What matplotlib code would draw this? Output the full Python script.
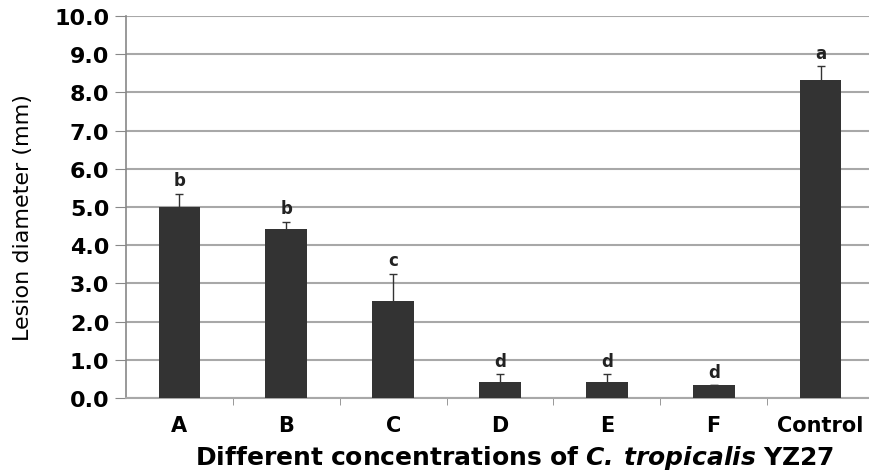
import matplotlib
matplotlib.use("Agg")
import matplotlib.pyplot as plt
import numpy as np

categories = ["A", "B", "C", "D", "E", "F", "Control"]
values = [5.0, 4.42, 2.55, 0.42, 0.42, 0.33, 8.33]
errors = [0.34, 0.2, 0.7, 0.2, 0.2, 0.0, 0.35]
letters = ["b", "b", "c", "d", "d", "d", "a"]
yticks = [0, 1, 2, 3, 4, 5, 6, 7, 8, 9, 10]

fig = plt.figure(figsize=(8.69, 4.77), dpi=100)
ax = fig.add_axes([126/869, 1-399/477, 748/869, (399-17)/477])

x = np.arange(len(categories))
ax.bar(x, values, width=0.39, color="#333333", zorder=3)
ax.errorbar(x, values, yerr=errors, fmt="none", ecolor="#333333", elinewidth=1.0,
            capsize=3, capthick=1.0, zorder=4)
for xi, v, e, l in zip(x, values, errors, letters):
    ax.text(xi, v + e + 0.12, l, ha="center", va="bottom", fontsize=12,
            fontweight="bold", color="#222222", zorder=5)

ax.set_xlim(-0.5, len(categories) - 0.5)
ax.set_ylim(0, 10)
ax.set_yticks(yticks)
ax.set_yticklabels([f"{t:.1f}" for t in yticks], fontsize=16, fontweight="bold")
ax.yaxis.grid(True, color="#a8a8a8", linewidth=1.5, zorder=0)
ax.set_axisbelow(True)

ax.set_xticks(x)
ax.set_xticklabels(categories, fontsize=15, fontweight="bold")
ax.tick_params(axis="x", which="major", length=0, pad=12)
ax.set_xticks(np.arange(0.5, len(categories) - 0.5, 1), minor=True)
ax.tick_params(axis="x", which="minor", length=5, color="#888888", direction="out")
ax.tick_params(axis="y", length=8, color="#888888", direction="out", pad=4)

for s in ["top", "right"]:
    ax.spines[s].set_visible(False)
ax.spines["left"].set_color("#888888")
ax.spines["bottom"].set_color("#a8a8a8")
ax.spines["left"].set_linewidth(1.2)
ax.spines["bottom"].set_linewidth(1.5)

ax.set_ylabel("Lesion diameter (mm)", fontsize=16)
ax.yaxis.set_label_coords(-0.124, 0.474)
ax.set_xlabel(r"$\mathbf{Different\ concentrations\ of\ }\mathbfit{C.\:tropicalis}\mathbf{\ YZ27}$",
              fontsize=18)
ax.xaxis.set_label_coords(0.519, -0.119)

fig.savefig("out.png", dpi=100, facecolor="white")
